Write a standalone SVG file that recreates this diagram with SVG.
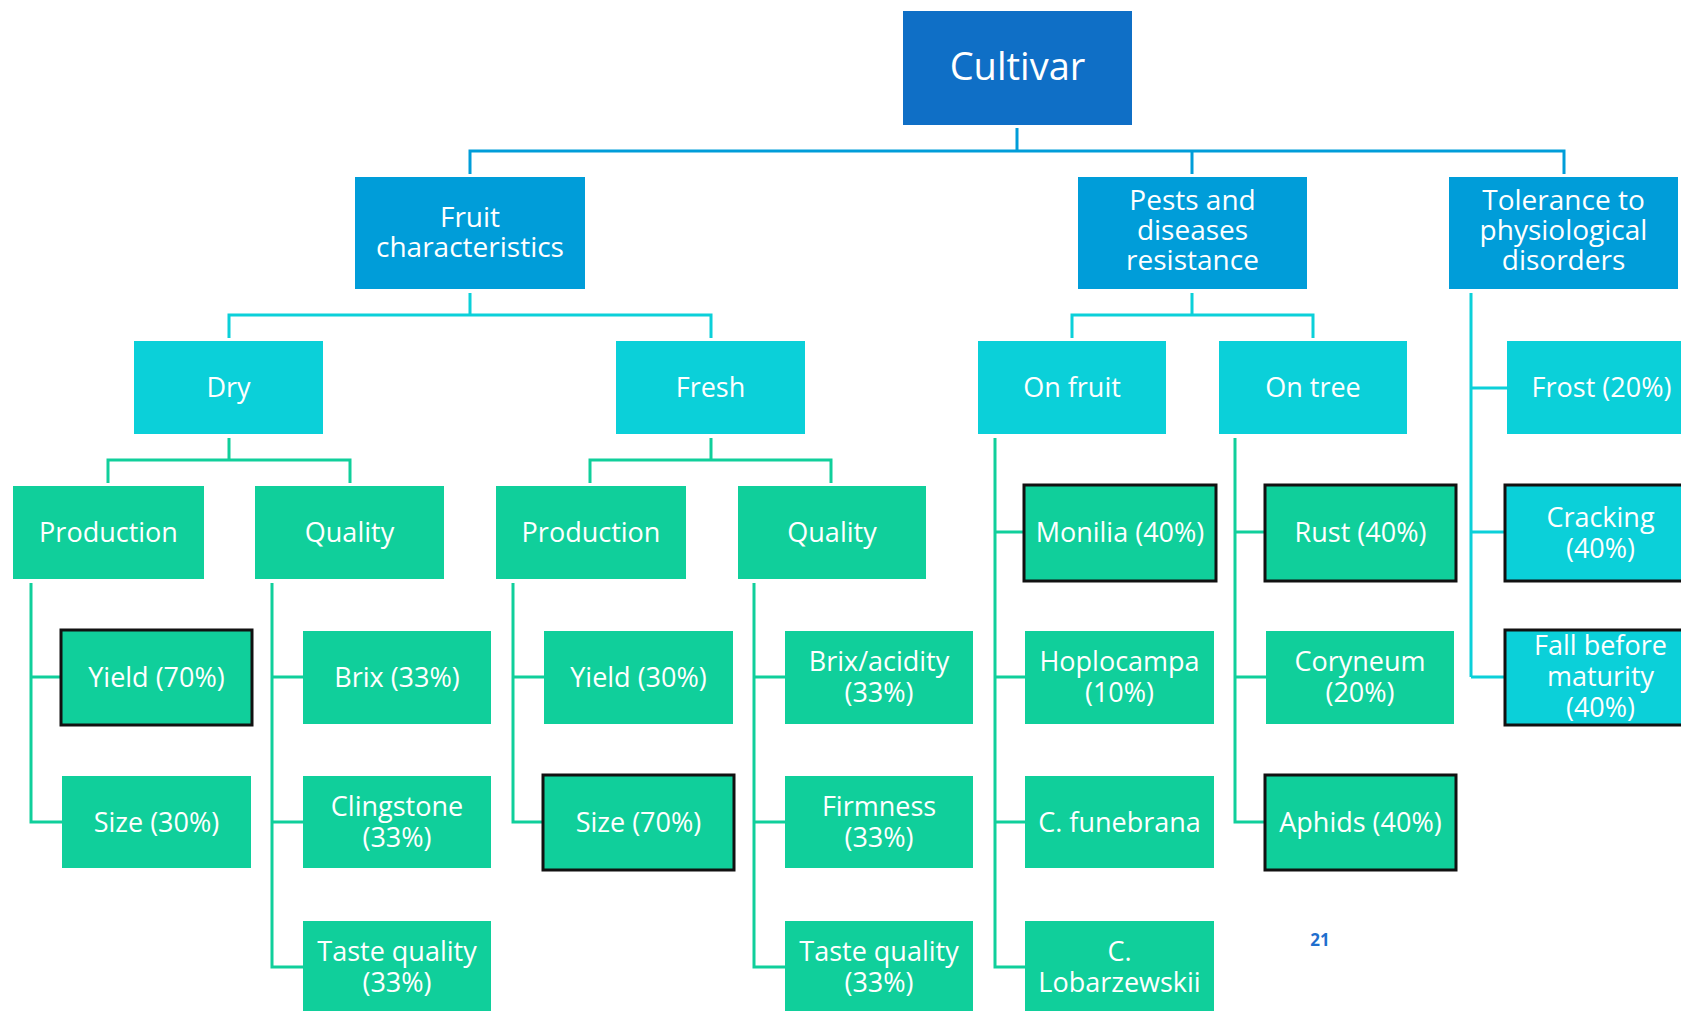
<svg xmlns="http://www.w3.org/2000/svg" width="1681" height="1011" viewBox="0 0 1681 1011">
<style>
text{font-family:"Open Sans","Noto Sans","Liberation Sans",sans-serif;fill:#fff;text-anchor:middle;font-size:27px}
.l1{fill:#0F6FC6}
.l2{fill:#009DD9}
.l3{fill:#0BD0D9}
.l4{fill:#10CF9B}
.hl{stroke:#111;stroke-width:3}
.t2{font-size:28px}
.t1{font-size:38px}
.c1{stroke:#009DD9;stroke-width:3;fill:none}
.c2{stroke:#0BD0D9;stroke-width:3;fill:none}
.c3{stroke:#10CF9B;stroke-width:3;fill:none}
.pg{fill:#1f6fce;font-size:17px;font-weight:bold}
</style>
<rect width="1681" height="1011" fill="#fff"/>
<g id="connectors">
<path class="c1" d="M1017 128V151M470 174V151H1564V174M1192 151V174"/>
<path class="c2" d="M470 293V315M229 338V315H711V338"/>
<path class="c2" d="M1192 293V315M1072 338V315H1313V338"/>
<path class="c2" d="M1471 293V677M1471 388H1507M1471 532H1506M1471 677H1506"/>
<path class="c3" d="M229 438V460M108 483V460H350V483"/>
<path class="c3" d="M711 438V460M590 483V460H831V483"/>
<path class="c3" d="M31 583V822H62M31 677H62"/>
<path class="c3" d="M272 583V967H303M272 677H303M272 822H303"/>
<path class="c3" d="M513 583V822H544M513 677H544"/>
<path class="c3" d="M754 583V967H785M754 677H785M754 822H785"/>
<path class="c3" d="M995 438V967H1025M995 532H1025M995 677H1025M995 822H1025"/>
<path class="c3" d="M1235 438V822H1266M1235 532H1266M1235 677H1266"/>
</g>
<g id="cultivar"><rect class="l1" x="903" y="11" width="229" height="114"/><text class="t1" x="1017.5" y="80">Cultivar</text></g>
<g id="fruit"><rect class="l2" x="355" y="177" width="230" height="112"/><text class="t2" x="470" y="227">Fruit</text><text class="t2" x="470" y="257">characteristics</text></g>
<g id="pests"><rect class="l2" x="1078" y="177" width="229" height="112"/><text class="t2" x="1192.5" y="210">Pests and</text><text class="t2" x="1192.5" y="240">diseases</text><text class="t2" x="1192.5" y="270">resistance</text></g>
<g id="tolerance"><rect class="l2" x="1449" y="177" width="229" height="112"/><text class="t2" x="1563.5" y="210">Tolerance to</text><text class="t2" x="1563.5" y="240">physiological</text><text class="t2" x="1563.5" y="270">disorders</text></g>
<g id="dry"><rect class="l3" x="134" y="341" width="189" height="93"/><text x="228.5" y="397">Dry</text></g>
<g id="fresh"><rect class="l3" x="616" y="341" width="189" height="93"/><text x="710.5" y="397">Fresh</text></g>
<g id="onfruit"><rect class="l3" x="978" y="341" width="188" height="93"/><text x="1072" y="397">On fruit</text></g>
<g id="ontree"><rect class="l3" x="1219" y="341" width="188" height="93"/><text x="1313" y="397">On tree</text></g>
<g id="frost"><rect class="l3" x="1507" y="341" width="189" height="93"/><text x="1601.5" y="397">Frost (20%)</text></g>
<g id="prod-dry"><rect class="l4" x="13" y="486" width="191" height="93"/><text x="108.5" y="542">Production</text></g>
<g id="qual-dry"><rect class="l4" x="255" y="486" width="189" height="93"/><text x="349.5" y="542">Quality</text></g>
<g id="prod-fresh"><rect class="l4" x="496" y="486" width="190" height="93"/><text x="591" y="542">Production</text></g>
<g id="qual-fresh"><rect class="l4" x="738" y="486" width="188" height="93"/><text x="832" y="542">Quality</text></g>
<g id="yield70"><rect class="l4 hl" x="61" y="630" width="191" height="95"/><text x="156.5" y="687">Yield (70%)</text></g>
<g id="size30"><rect class="l4" x="62" y="776" width="189" height="92"/><text x="156.5" y="832">Size (30%)</text></g>
<g id="brix"><rect class="l4" x="303" y="631" width="188" height="93"/><text x="397" y="687">Brix (33%)</text></g>
<g id="clingstone"><rect class="l4" x="303" y="776" width="188" height="92"/><text x="397" y="816">Clingstone</text><text x="397" y="847">(33%)</text></g>
<g id="taste-dry"><rect class="l4" x="303" y="921" width="188" height="93"/><text x="397" y="961">Taste quality</text><text x="397" y="992">(33%)</text></g>
<g id="yield30"><rect class="l4" x="544" y="631" width="189" height="93"/><text x="638.5" y="687">Yield (30%)</text></g>
<g id="size70"><rect class="l4 hl" x="543" y="775" width="191" height="95"/><text x="638.5" y="832">Size (70%)</text></g>
<g id="brixacid"><rect class="l4" x="785" y="631" width="188" height="93"/><text x="879" y="671">Brix/acidity</text><text x="879" y="702">(33%)</text></g>
<g id="firmness"><rect class="l4" x="785" y="776" width="188" height="92"/><text x="879" y="816">Firmness</text><text x="879" y="847">(33%)</text></g>
<g id="taste-fresh"><rect class="l4" x="785" y="921" width="188" height="93"/><text x="879" y="961">Taste quality</text><text x="879" y="992">(33%)</text></g>
<g id="monilia"><rect class="l4 hl" x="1024" y="485" width="192" height="96"/><text x="1120" y="542">Monilia (40%)</text></g>
<g id="hoplocampa"><rect class="l4" x="1025" y="631" width="189" height="93"/><text x="1119.5" y="671">Hoplocampa</text><text x="1119.5" y="702">(10%)</text></g>
<g id="funebrana"><rect class="l4" x="1025" y="776" width="189" height="92"/><text x="1119.5" y="832">C. funebrana</text></g>
<g id="lobarzewskii"><rect class="l4" x="1025" y="921" width="189" height="93"/><text x="1119.5" y="961">C.</text><text x="1119.5" y="992">Lobarzewskii</text></g>
<g id="rust"><rect class="l4 hl" x="1265" y="485" width="191" height="96"/><text x="1360.5" y="542">Rust (40%)</text></g>
<g id="coryneum"><rect class="l4" x="1266" y="631" width="188" height="93"/><text x="1360" y="671">Coryneum</text><text x="1360" y="702">(20%)</text></g>
<g id="aphids"><rect class="l4 hl" x="1265" y="775" width="191" height="95"/><text x="1360.5" y="832">Aphids (40%)</text></g>
<g id="cracking"><rect class="l3 hl" x="1505" y="485" width="191" height="96"/><text x="1600.5" y="527">Cracking</text><text x="1600.5" y="558">(40%)</text></g>
<g id="fall"><rect class="l3 hl" x="1505" y="630" width="191" height="95"/><text x="1600.5" y="655">Fall before</text><text x="1600.5" y="686">maturity</text><text x="1600.5" y="717">(40%)</text></g>
<text class="pg" x="1320" y="946">21</text>
</svg>
